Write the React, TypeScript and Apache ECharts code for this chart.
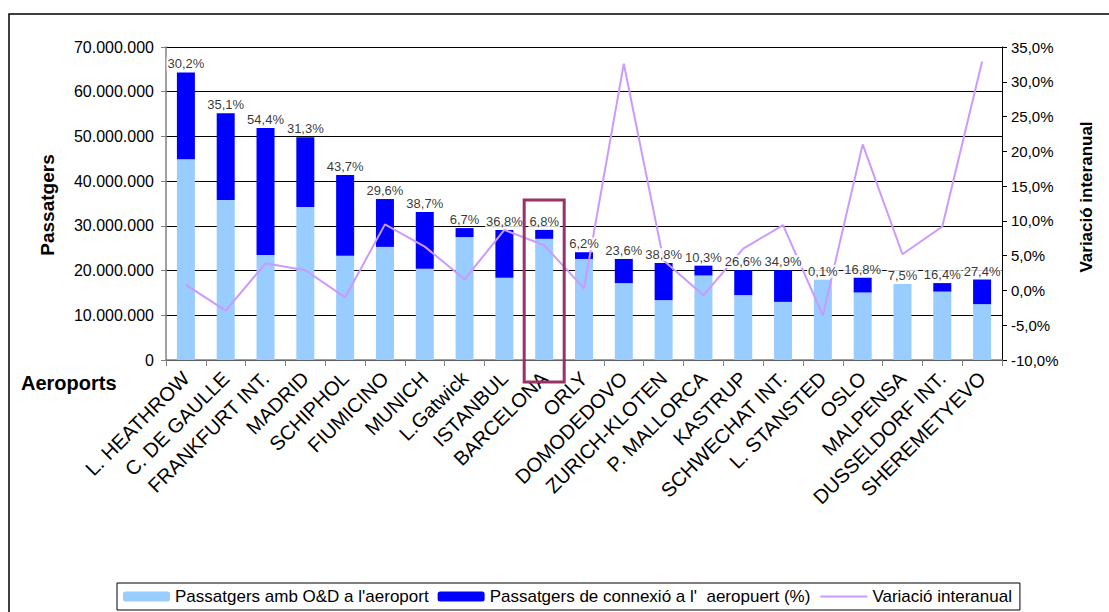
import React, { useEffect, useRef } from "react";
import * as echarts from "echarts";

const airports = [
  "L. HEATHROW", "C. DE GAULLE", "FRANKFURT INT.", "MADRID", "SCHIPHOL", "FIUMICINO",
  "MUNICH", "L.Gatwick", "ISTANBUL", "BARCELONA", "ORLY", "DOMODEDOVO", "ZURICH-KLOTEN",
  "P. MALLORCA", "KASTRUP", "SCHWECHAT INT.", "L. STANSTED", "OSLO", "MALPENSA",
  "DUSSELDORF INT.", "SHEREMETYEVO",
];

// Passatgers amb O&D a l'aeroport
const odPassengers = [
  44900000, 35800000, 23500000, 34200000, 23300000, 25300000, 20400000, 27500000,
  18400000, 27100000, 22600000, 17200000, 13400000, 18900000, 14500000, 13000000,
  17900000, 15100000, 17000000, 15300000, 12500000,
];

// Passatgers de connexió
const connPassengers = [
  19400000, 19400000, 28400000, 15600000, 18100000, 10700000, 12700000, 2000000,
  10700000, 2000000, 1500000, 5400000, 8300000, 2200000, 5600000, 7100000,
  20000, 3300000, 0, 1900000, 5500000,
];

// % connexió (etiquetes)
const connPctLabels = [
  "30,2%", "35,1%", "54,4%", "31,3%", "43,7%", "29,6%", "38,7%", "6,7%", "36,8%", "6,8%",
  "6,2%", "23,6%", "38,8%", "10,3%", "26,6%", "34,9%", "0,1%", "16,8%", "7,5%", "16,4%", "27,4%",
];

// Variació interanual (%)
const yoyVariation = [
  0.8, -2.9, 3.9, 2.9, -1.0, 9.5, 6.3, 1.6, 8.7, 6.5, 0.3, 32.6, 4.3, -0.7, 6.0, 9.4,
  -3.6, 21.0, 5.2, 9.2, 32.9,
];

const seriesNames = [
  "Passatgers amb O&D a l'aeroport",
  "Passatgers de connexió a l'  aeropuert (%)",
  "Variació interanual",
];

const highlighted = "BARCELONA";
const FONT = "'Liberation Sans', Arial, sans-serif";

function fmtThousands(v: number): string {
  return String(Math.round(v)).replace(/\B(?=(\d{3})+(?!\d))/g, ".");
}

export default function App() {
  const ref = useRef<HTMLDivElement>(null);

  useEffect(() => {
    if (!ref.current) return;
    const chart = echarts.init(ref.current, undefined, { renderer: "svg" });
    const totals = odPassengers.map((v, i) => v + connPassengers[i]);

    chart.setOption({
      animation: false,
      textStyle: { fontFamily: FONT },
      grid: { left: 166, right: 107, top: 47, bottom: 252, containLabel: false },
      legend: {
        data: [
          { name: seriesNames[0] },
          { name: seriesNames[1] },
          { name: seriesNames[2], itemStyle: { opacity: 0 } },
        ],
        left: 117,
        top: 583,
        padding: [5, 8, 5, 6],
        itemGap: 9,
        itemWidth: 47,
        itemHeight: 10,
        borderColor: "#000",
        borderWidth: 1,
        textStyle: { fontSize: 17, color: "#000", fontFamily: FONT },
      },
      xAxis: {
        type: "category",
        data: airports,
        boundaryGap: true,
        axisLine: { lineStyle: { color: "#808080", width: 1.5 } },
        axisTick: { show: true, length: 6, lineStyle: { color: "#808080" } },
        axisLabel: {
          interval: 0,
          rotate: 45,
          margin: 15,
          fontSize: 20,
          color: "#000",
          fontFamily: FONT,
        },
      },
      yAxis: [
        {
          type: "value",
          min: 0,
          max: 70000000,
          interval: 10000000,
          axisLine: { show: true, lineStyle: { color: "#808080", width: 1.5 } },
          axisTick: { show: true, length: 5, lineStyle: { color: "#808080" } },
          axisLabel: { fontSize: 16, color: "#000", margin: 12, formatter: (v: number) => fmtThousands(v) },
          splitLine: { show: true, lineStyle: { color: "#000", width: 1 } },
        },
        {
          type: "value",
          min: -10,
          max: 35,
          interval: 5,
          position: "right",
          axisLine: { show: true, lineStyle: { color: "#000", width: 1 } },
          axisTick: { show: true, length: 5, lineStyle: { color: "#000" } },
          axisLabel: {
            fontSize: 15,
            color: "#000",
            margin: 9,
            formatter: (v: number) => v.toFixed(1).replace(".", ",") + "%",
          },
          splitLine: { show: false },
        },
      ],
      series: [
        {
          name: seriesNames[0],
          type: "bar",
          stack: "total",
          barWidth: 18,
          data: odPassengers,
          itemStyle: { color: "#99CCFF" },
          z: 2,
        },
        {
          name: seriesNames[1],
          type: "bar",
          stack: "total",
          barWidth: 18,
          data: connPassengers,
          itemStyle: { color: "#0000FF" },
          z: 2,
        },
        {
          name: seriesNames[2],
          type: "line",
          yAxisIndex: 1,
          data: yoyVariation,
          symbol: "none",
          showSymbol: false,
          lineStyle: { color: "#CC99FF", width: 2 },
          itemStyle: { color: "#CC99FF" },
          z: 3,
        },
        {
          name: "labels",
          type: "scatter",
          data: totals,
          symbolSize: 0,
          silent: true,
          z: 10,
          label: {
            show: true,
            position: "top",
            distance: 2,
            fontSize: 13,
            color: "#000",
            backgroundColor: "#fff",
            padding: [0, 1, 0, 1],
            formatter: (p: any) => connPctLabels[p.dataIndex],
          },
        },
      ],
    });

    const cx = chart.convertToPixel({ xAxisIndex: 0 }, highlighted) as number;
    const yTop = chart.convertToPixel({ yAxisIndex: 0 }, 35800000) as number;
    const yBase = chart.convertToPixel({ yAxisIndex: 0 }, 0) as number;

    chart.setOption({
      graphic: [
        {
          type: "rect",
          silent: true,
          z: 0,
          shape: { x: 9, y: 14, width: 1300, height: 800 },
          style: { fill: "none", stroke: "#000", lineWidth: 1.5 },
        },
        {
          type: "rect",
          silent: true,
          z: 20,
          shape: { x: cx - 20, y: yTop, width: 40, height: yBase + 22 - yTop },
          style: { fill: "none", stroke: "#993366", lineWidth: 3 },
        },
        {
          type: "text",
          silent: true,
          x: 47,
          y: 205,
          rotation: Math.PI / 2,
          style: {
            text: "Passatgers",
            font: `bold 19px ${FONT}`,
            fill: "#000",
            align: "center",
            verticalAlign: "middle",
          },
        },
        {
          type: "text",
          silent: true,
          x: 21,
          y: 383,
          style: {
            text: "Aeroports",
            font: `bold 20px ${FONT}`,
            fill: "#000",
            align: "left",
            verticalAlign: "middle",
          },
        },
        {
          type: "text",
          silent: true,
          x: 1086,
          y: 197,
          rotation: Math.PI / 2,
          style: {
            text: "Variació interanual",
            font: `bold 17px ${FONT}`,
            fill: "#000",
            align: "center",
            verticalAlign: "middle",
          },
        },
      ],
    });

    return () => chart.dispose();
  }, []);

  return (
    <div
      ref={ref}
      style={{ position: "fixed", left: 0, top: 0, width: 1109, height: 612, background: "#fff" }}
    />
  );
}
